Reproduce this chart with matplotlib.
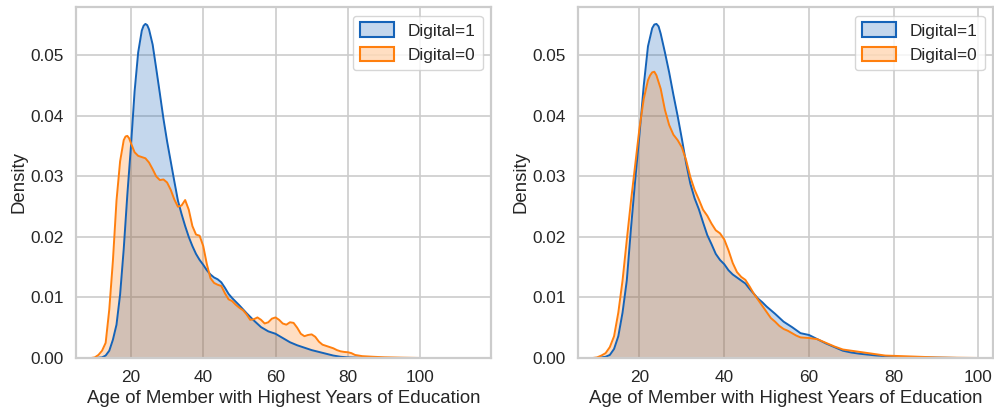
import numpy as np
import matplotlib
matplotlib.use("Agg")
import matplotlib.pyplot as plt
from matplotlib.patches import Patch
from matplotlib.colors import to_rgba

left_age_d1 = [10, 12, 13, 14, 15, 16, 17, 18, 19, 20, 21, 22, 23, 23.5, 24, 24.5, 25, 26, 27, 28,
               29, 30, 31, 32, 33, 34, 35, 36, 37, 38, 39, 40, 41, 42, 43, 44, 45, 46, 47, 48,
               49, 50, 52, 54, 56, 58, 60, 62, 64, 66, 68, 70, 72, 74, 76, 78, 80, 84, 90]
left_dens_d1 = [0.0, 0.0001, 0.0004, 0.0012, 0.003, 0.0055, 0.0105, 0.018, 0.027, 0.035,
                0.044, 0.0505, 0.0541, 0.0549, 0.0552, 0.055, 0.0543, 0.0518, 0.0478, 0.0437,
                0.0395, 0.0358, 0.0325, 0.0292, 0.026, 0.0238, 0.0218, 0.02, 0.0185, 0.0172,
                0.0162, 0.0154, 0.0145, 0.0138, 0.0133, 0.013, 0.0125, 0.0116, 0.0106, 0.0099,
                0.0093, 0.0087, 0.0074, 0.0062, 0.0051, 0.0044, 0.004, 0.0033, 0.0026, 0.0021,
                0.0017, 0.0013, 0.001, 0.0007, 0.0004, 0.0002, 0.0001, 0.00003, 0.0]

left_age_d0 = [9, 10, 11, 12, 13, 14, 15, 16, 17, 18, 18.5, 19, 19.5, 20, 21, 22, 23, 24, 25, 26,
               27, 28, 29, 30, 31, 32, 33, 34, 35, 36, 37, 38, 39, 40, 41, 42, 43, 44, 45, 46,
               47, 48, 49, 50, 51, 52, 53, 54, 55, 56, 57, 58, 59, 60, 61, 62, 63, 64, 65, 66,
               67, 68, 69, 70, 71, 72, 73, 74, 75, 76, 77, 78, 79, 80, 81, 82, 84, 87, 90, 95,
               100]
left_dens_d0 = [0.0, 0.0001, 0.0005, 0.0012, 0.0025, 0.008, 0.016, 0.026, 0.0325, 0.036,
                0.0366, 0.0367, 0.0363, 0.0355, 0.034, 0.0334, 0.0332, 0.033, 0.0323, 0.0312,
                0.03, 0.0294, 0.0295, 0.029, 0.0278, 0.0262, 0.025, 0.0252, 0.0261, 0.0245,
                0.0218, 0.0204, 0.0202, 0.0185, 0.0155, 0.0132, 0.0124, 0.0121, 0.0119, 0.0107,
                0.0097, 0.0094, 0.0088, 0.0083, 0.0079, 0.0072, 0.0063, 0.0064, 0.0067, 0.0063,
                0.0057, 0.0059, 0.0065, 0.0067, 0.0063, 0.0057, 0.0055, 0.0059, 0.0058, 0.005,
                0.004, 0.0036, 0.0038, 0.0039, 0.0035, 0.0027, 0.0022, 0.002, 0.0018, 0.0016,
                0.0013, 0.0011, 0.001, 0.00095, 0.0008, 0.0005, 0.0003, 0.0002, 0.00012, 0.00005,
                0.0]

right_age_d1 = [10, 12, 13, 14, 15, 16, 17, 18, 19, 20, 21, 22, 23, 23.5, 24, 24.5, 25, 26, 27, 28,
                29, 30, 31, 32, 33, 34, 35, 36, 37, 38, 39, 40, 41, 42, 43, 44, 45, 46, 47, 48,
                49, 50, 52, 54, 56, 58, 60, 62, 64, 66, 68, 70, 72, 76, 80, 85, 95]
right_dens_d1 = [0.0, 0.0002, 0.0005, 0.0015, 0.0036, 0.0075, 0.0128, 0.0215, 0.0295, 0.037,
                 0.045, 0.0515, 0.0545, 0.0551, 0.0552, 0.0548, 0.0536, 0.0505, 0.0472, 0.0435,
                 0.04, 0.0362, 0.0322, 0.0288, 0.0264, 0.0246, 0.0224, 0.0203, 0.0188, 0.0172,
                 0.0162, 0.0155, 0.0145, 0.0138, 0.0133, 0.0128, 0.0123, 0.0114, 0.0106, 0.0098,
                 0.0092, 0.0085, 0.0073, 0.006, 0.0051, 0.0041, 0.0038, 0.0031, 0.0024, 0.0018,
                 0.0012, 0.0009, 0.0007, 0.0004, 0.0002, 0.0001, 0.0]

right_age_d0 = [9, 10, 11, 12, 13, 14, 15, 16, 17, 18, 19, 20, 21, 22, 22.5, 23, 23.5, 24, 25, 26,
                27, 28, 29, 30, 31, 32, 33, 34, 35, 36, 37, 38, 39, 40, 41, 42, 43, 44, 45, 46,
                47, 48, 49, 50, 51, 52, 53, 54, 55, 56, 57, 58, 60, 62, 64, 66, 68, 70, 72, 74,
                76, 78, 82, 86, 90, 95, 100]
right_dens_d0 = [0.0, 0.0001, 0.0004, 0.0008, 0.0018, 0.0036, 0.0075, 0.0128, 0.0195, 0.026,
                 0.032, 0.038, 0.0428, 0.0459, 0.0467, 0.0472, 0.0473, 0.0467, 0.0445, 0.041,
                 0.0385, 0.0369, 0.036, 0.0348, 0.0327, 0.0299, 0.0278, 0.0262, 0.0245, 0.0235,
                 0.0222, 0.0211, 0.0206, 0.0196, 0.0178, 0.0157, 0.0142, 0.0134, 0.0129, 0.0118,
                 0.0106, 0.0096, 0.0086, 0.0076, 0.0066, 0.006, 0.0053, 0.0048, 0.0045, 0.0041,
                 0.0037, 0.0034, 0.0033, 0.0031, 0.0025, 0.0019, 0.0014, 0.0012, 0.001, 0.0008,
                 0.0006, 0.0004, 0.0003, 0.0002, 0.0001, 0.00004, 0.0]

labels = ["Digital=1", "Digital=0"]
colors = ["#1563b8", "#ff7f0e"]
xlabel = "Age of Member with Highest Years of Education"

plt.rcParams["font.family"] = ["Liberation Sans", "DejaVu Sans"]
plt.rcParams["text.color"] = "#262626"
plt.rcParams["axes.labelcolor"] = "#262626"
plt.rcParams["xtick.color"] = "#262626"
plt.rcParams["ytick.color"] = "#262626"

fig, axes = plt.subplots(1, 2, figsize=(9.95, 4.11), dpi=100)
fig.subplots_adjust(left=0.0764, right=0.9983, bottom=0.129, top=0.983, wspace=0.209)

panels = [
    (axes[0], [(left_age_d1, left_dens_d1), (left_age_d0, left_dens_d0)], (4.8, 119.7)),
    (axes[1], [(right_age_d1, right_dens_d1), (right_age_d0, right_dens_d0)], (5.5, 103.5)),
]

for ax, curves, xlim in panels:
    for (x, y), c in zip(curves, colors):
        ax.fill_between(x, y, color=c, alpha=0.25, linewidth=0)
        ax.plot(x, y, color=c, linewidth=1.4)

    ax.set_xlim(*xlim)
    ax.set_ylim(0, 0.058)
    ax.set_xticks([20, 40, 60, 80, 100])
    ax.set_yticks([0.0, 0.01, 0.02, 0.03, 0.04, 0.05])
    ax.set_yticklabels([f"{v:.2f}" for v in ax.get_yticks()])
    ax.set_xlabel(xlabel, fontsize=13.4, labelpad=3)
    ax.set_ylabel("Density", fontsize=13.4, labelpad=2)
    ax.tick_params(labelsize=12.4, length=0, pad=9)
    ax.grid(color="#cccccc", linewidth=1.2)
    ax.set_axisbelow(True)
    for s in ax.spines.values():
        s.set_color("#cccccc")
        s.set_linewidth(1.6)

    handles = [Patch(facecolor=to_rgba(c, 0.25), edgecolor=c, linewidth=1.5) for c in colors]
    leg = ax.legend(handles, labels, loc="upper right", fontsize=12.4,
                    handlelength=2.0, handleheight=0.9, borderaxespad=0.5)
    leg.get_frame().set_edgecolor("#cccccc")

plt.savefig("out.png", dpi=100)
